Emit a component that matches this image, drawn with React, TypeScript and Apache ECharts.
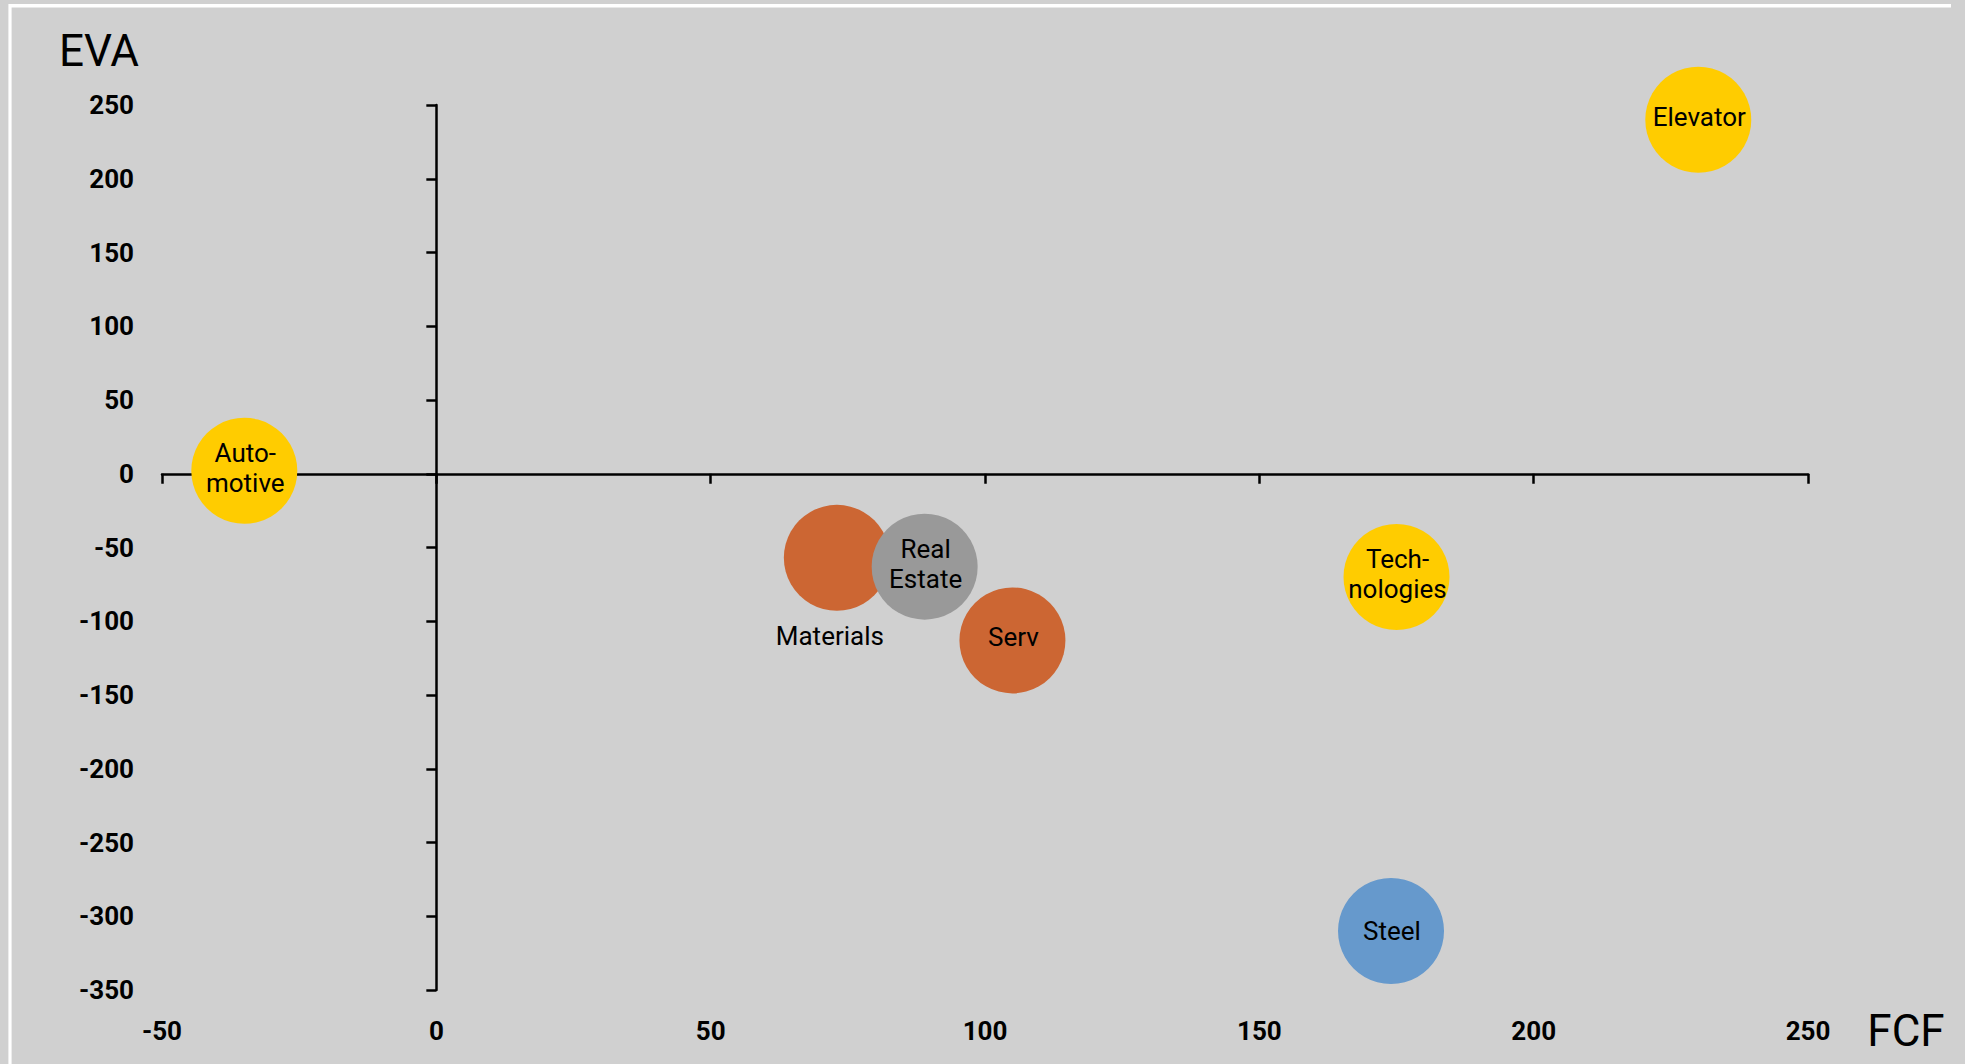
import React, { useEffect, useRef } from "react";
import * as echarts from "echarts";

// Business segments plotted by free cash flow (x) against economic value added (y)
const segments = ["Automotive", "Elevator", "Technologies", "Materials", "Real Estate", "Serv", "Steel"];
const bubbleText = ["Auto-\nmotive", "Elevator", "Tech-\nnologies", "Materials", "Real\nEstate", "Serv", "Steel"];
const fcfValues = [-35, 230, 175, 73, 89, 105, 174];
const evaValues = [2, 240, -70, -57, -63, -113, -310];

// Axis ranges and tick steps
const fcfMin = -50;
const fcfMax = 250;
const fcfStep = 50;
const evaMin = -350;
const evaMax = 250;
const evaStep = 50;

const segmentColor: Record<string, string> = {
  Automotive: "#ffcc00",
  Elevator: "#ffcc00",
  Technologies: "#ffcc00",
  Materials: "#cc6633",
  "Real Estate": "#999999",
  Serv: "#cc6633",
  Steel: "#6699cc",
};

const FONT = "Roboto";

export default function App() {
  const ref = useRef<HTMLDivElement>(null);

  useEffect(() => {
    if (!ref.current) return;
    const chart = echarts.init(ref.current, undefined, { renderer: "svg" });

    const data = segments.map((name, i) => {
      const below = name === "Materials";
      const lift = name === "Steel" ? 0 : -3;
      return {
        name,
        value: [fcfValues[i], evaValues[i]],
        itemStyle: { color: segmentColor[name], opacity: 1 },
        label: below
          ? { position: "bottom", distance: 10, offset: [-7, 0], formatter: bubbleText[i] }
          : { position: "inside", offset: [1, lift], formatter: bubbleText[i] },
      };
    });

    const tickLabel = {
      show: true,
      margin: 28,
      color: "#000",
      fontFamily: FONT,
      fontWeight: "bold",
      fontSize: 26,
    };
    const axisStroke = { color: "#000", width: 2.5 };

    chart.setOption({
      animation: false,
      backgroundColor: "#d0d0d0",
      grid: { left: 162, right: 157, top: 105, bottom: 74, containLabel: false },
      xAxis: [
        {
          type: "value",
          min: fcfMin,
          max: fcfMax,
          interval: fcfStep,
          axisLine: { show: true, onZero: true, onZeroAxisIndex: 0, lineStyle: axisStroke },
          axisTick: { show: true, length: 10, lineStyle: axisStroke },
          axisLabel: { show: false },
          splitLine: { show: false },
        },
        {
          type: "value",
          position: "bottom",
          min: fcfMin,
          max: fcfMax,
          interval: fcfStep,
          axisLine: { show: false, onZero: false },
          axisTick: { show: false },
          axisLabel: tickLabel,
          splitLine: { show: false },
        },
      ],
      yAxis: [
        {
          type: "value",
          min: evaMin,
          max: evaMax,
          interval: evaStep,
          axisLine: { show: true, onZero: true, onZeroAxisIndex: 0, lineStyle: axisStroke },
          axisTick: { show: true, length: 10, lineStyle: axisStroke },
          axisLabel: { show: false },
          splitLine: { show: false },
        },
        {
          type: "value",
          position: "left",
          min: evaMin,
          max: evaMax,
          interval: evaStep,
          axisLine: { show: false, onZero: false },
          axisTick: { show: false },
          axisLabel: tickLabel,
          splitLine: { show: false },
        },
      ],
      graphic: [
        {
          type: "line",
          z: -1,
          shape: { x1: 9, y1: 5.7, x2: 1951, y2: 5.7 },
          style: { stroke: "#ffffff", lineWidth: 3.4 },
        },
        {
          type: "line",
          z: -1,
          shape: { x1: 10, y1: 4, x2: 10, y2: 1064 },
          style: { stroke: "#ffffff", lineWidth: 3.2 },
        },
        {
          type: "text",
          x: 99,
          y: 51,
          style: {
            text: "EVA",
            fill: "#000",
            fontFamily: FONT,
            fontSize: 44,
            align: "center",
            verticalAlign: "middle",
          },
        },
        {
          type: "text",
          x: 1906,
          y: 1031,
          style: {
            text: "FCF",
            fill: "#000",
            fontFamily: FONT,
            fontSize: 44,
            align: "center",
            verticalAlign: "middle",
          },
        },
      ],
      series: [
        {
          type: "scatter",
          xAxisIndex: 0,
          yAxisIndex: 0,
          symbol: "circle",
          symbolSize: 106,
          itemStyle: { opacity: 1 },
          label: {
            show: true,
            color: "#000",
            fontFamily: FONT,
            fontSize: 26,
            lineHeight: 30,
          },
          emphasis: { disabled: true },
          data,
        },
      ],
    });

    return () => chart.dispose();
  }, []);

  return (
    <div
      ref={ref}
      style={{ position: "fixed", left: 0, top: 0, width: 1965, height: 1064 }}
    />
  );
}
